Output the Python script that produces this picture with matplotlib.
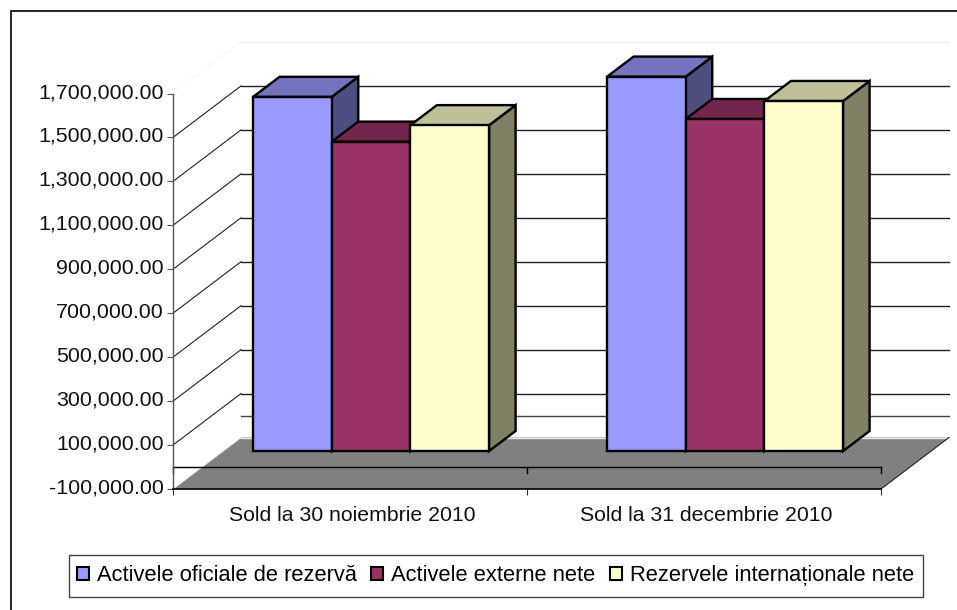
import matplotlib
matplotlib.use("Agg")
import matplotlib.pyplot as plt
from matplotlib.patches import Polygon, Rectangle
from matplotlib.transforms import ScaledTranslation

plt.rcParams['font.family'] = ['Liberation Sans', 'DejaVu Sans']

# --- data ---
categories = ["Sold la 30 noiembrie 2010", "Sold la 31 decembrie 2010"]
series_names = ["Activele oficiale de rezervă", "Activele externe nete", "Rezervele internaționale nete"]
activele_oficiale = [1612000, 1704000]
activele_externe = [1408000, 1511000]
rezervele_internationale = [1483000, 1593000]
value_ticks = [-100000, 100000, 300000, 500000, 700000, 900000, 1100000, 1300000, 1500000, 1700000]

# --- style ---
front_colors = ["#9999FF", "#993366", "#FFFFCC"]
top_colors = ["#7373BF", "#73264D", "#BFBF99"]
side_colors = ["#4D4D80", "#4D1A33", "#808066"]
W, H = 957, 610
AX_L, AX_R, AX_B, AX_T = 173, 881, 489, 93.5

fig = plt.figure(figsize=(W / 100, H / 100), dpi=100, facecolor="white")
ax = fig.add_axes([AX_L / W, 1 - AX_B / H, (AX_R - AX_L) / W, (AX_B - AX_T) / H])
ax.set_xlim(0, len(categories))
ax.set_ylim(value_ticks[0], value_ticks[-1])
ax.patch.set_visible(False)

# oblique projection: depth 1 = back wall, in data units
px_x = (AX_R - AX_L) / len(categories)           # px per category
px_v = (AX_B - AX_T) / (value_ticks[-1] - value_ticks[0])  # px per value unit
DX = 68 / px_x
DV = 51.5 / px_v


def proj(x, v, d=0.0):
    return (x + d * DX, v + d * DV)


def poly(pts, fc, ec="black", lw=1.7, z=3):
    ax.add_patch(Polygon(pts, closed=True, facecolor=fc, edgecolor=ec, linewidth=lw,
                         joinstyle="miter", clip_on=False, zorder=z))


# outer frame (runs off the right and bottom of the picture)
fig.add_artist(Rectangle((11 / W, -0.05), 1.1, 1.05 - 11 / H, transform=fig.transFigure,
                         fill=False, edgecolor="black", linewidth=1.2))

vmin, vmax = value_ticks[0], value_ticks[-1]
xmax = len(categories)

# floor
poly([proj(0, vmin), proj(0, vmin, 1), proj(xmax, vmin, 1), proj(xmax, vmin)], "#808080",
     ec="none", lw=0, z=1)
fx, fy = zip(proj(0, vmin, 1), proj(xmax, vmin, 1))
ax.plot(fx, fy, color="#e8e8e8", lw=1, clip_on=False, zorder=1.1)
fx, fy = zip(proj(xmax, vmin), proj(xmax, vmin, 1))
ax.plot(fx, fy, color="#222222", lw=0.8, clip_on=False, zorder=1.1)
fx, fy = zip(proj(0, vmin), proj(0, vmin, 1))
ax.plot(fx, fy, color="#eeeeee", lw=0.8, clip_on=False, zorder=1.1)

# back wall gridlines and side wall diagonals
for v in value_ticks[1:]:
    col = "#eeeeee" if v == vmax else "#222222"
    gx, gy = zip(proj(0, v, 1), proj(xmax, v, 1))
    ax.plot(gx, gy, color=col, lw=1.0, clip_on=False, zorder=1.2)
    dx, dy = zip(proj(0, v), proj(0, v, 1))
    ax.plot(dx, dy, color=col, lw=0.8, ls=(0, (1, 1)) if v == vmax else "-", clip_on=False, zorder=1.2)
gx, gy = zip(proj(0, 0, 1), proj(xmax, 0, 1))
ax.plot(gx, gy, color="#444444", lw=1.0, clip_on=False, zorder=1.2)

# zero line with its ticks
ax.plot([0, xmax], [0, 0], color="black", lw=1.0, clip_on=False, zorder=2)
for i in range(xmax + 1):
    ax.plot([i, i], [0, -6 / px_v], color="black", lw=1.0, clip_on=False, zorder=2)

# 3D bars
D0, D1 = 0.31, 0.70
GAP = 59 / px_x
BW = (1 - 2 * GAP) / 3
series = [activele_oficiale, activele_externe, rezervele_internationale]
for c in range(len(categories)):
    for s, vals in enumerate(series):
        x0 = c + GAP + s * BW
        x1 = x0 + BW
        v = vals[c]
        poly([proj(x1, 0, D0), proj(x1, 0, D1), proj(x1, v, D1), proj(x1, v, D0)], side_colors[s])
        poly([proj(x0, v, D0), proj(x0, v, D1), proj(x1, v, D1), proj(x1, v, D0)], top_colors[s])
        poly([proj(x0, 0, D0), proj(x1, 0, D0), proj(x1, v, D0), proj(x0, v, D0)], front_colors[s])

# axes
for name in ("top", "right"):
    ax.spines[name].set_visible(False)
ax.spines["left"].set_color("#555555")
ax.spines["left"].set_linewidth(1.0)
ax.spines["left"].set_zorder(2.5)
ax.spines["bottom"].set_color("black")
ax.spines["bottom"].set_linewidth(1.2)
ax.spines["bottom"].set_zorder(2.5)

ax.set_yticks(value_ticks)
ax.set_yticklabels([f"{v:,.2f}" for v in value_ticks], fontsize=15.4, color="#111111")
ax.tick_params(axis="y", length=4.3, width=0.8, color="#555555", pad=2.4)
up = ScaledTranslation(0, 3 / 100, fig.dpi_scale_trans)
for lab in ax.get_yticklabels():
    lab.set_transform(lab.get_transform() + up)
ax.set_xticks([i + 0.5 for i in range(len(categories))])
ax.set_xticklabels(categories, fontsize=15.3, color="#111111")
ax.set_xticks(range(xmax + 1), minor=True)
ax.tick_params(axis="x", which="major", length=0, pad=12)
ax.tick_params(axis="x", which="minor", length=4.3, width=0.8, color="#333333")
right = ScaledTranslation(2 / 100, 0, fig.dpi_scale_trans)
for lab in ax.get_xticklabels():
    lab.set_transform(lab.get_transform() + right)

# legend
fig.add_artist(Rectangle((69 / W, 1 - 597 / H), (923 - 69) / W, 42 / H, transform=fig.transFigure,
                         facecolor="white", edgecolor="#444444", linewidth=1.0))
handles = [Rectangle((0, 0), 1, 1, facecolor=c, edgecolor="black", linewidth=1.5) for c in front_colors]
leg = fig.legend(handles, series_names, ncol=3, loc="center left",
                 bbox_to_anchor=(77 / W, 1 - 575.5 / H), frameon=False, fontsize=15.75,
                 handlelength=0.55, handleheight=0.55, handletextpad=0.36, columnspacing=0.66,
                 borderpad=0, borderaxespad=0)
leg.set_zorder(5)

fig.savefig("out.png", dpi=100, facecolor="white")
